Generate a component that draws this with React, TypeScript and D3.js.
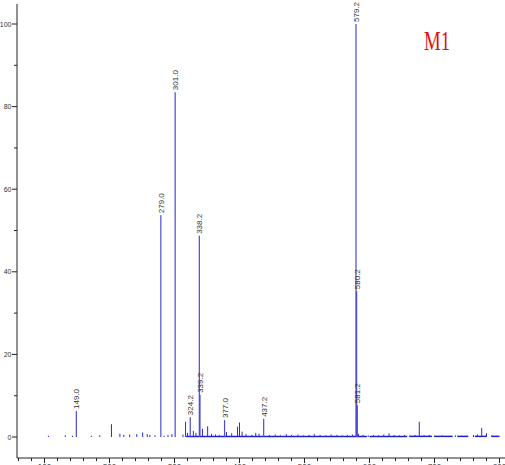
import React from "react";
import * as d3 from "d3";

const W = 505;
const H = 465;

// Labelled peaks: m/z, relative intensity
const peakMz = [149.0, 279.0, 301.0, 324.2, 338.2, 339.2, 377.0, 437.2, 579.2, 580.2, 581.2];
const peakInt = [6.3, 53.7, 83.5, 4.8, 48.7, 10.2, 4.1, 4.4, 100, 35.3, 7.7];
const peakLabels = ["149.0", "279.0", "301.0", "324.2", "338.2", "339.2", "377.0", "437.2", "579.2", "580.2", "581.2"];

// Unlabelled minor peaks
const minorMz = [106, 132, 143, 172, 185, 203, 216, 222, 231, 242, 251, 258, 262, 270, 284, 290, 296,
  313, 317, 320, 329, 333, 343, 351, 357, 363, 369, 380, 388, 397, 400, 404, 410, 419, 425, 430,
  446, 455, 463, 472, 480, 490, 498, 507, 515, 524, 533, 541, 550, 558, 566, 574, 583, 590, 598,
  606, 614, 622, 630, 638, 646, 654, 662, 670, 676.6, 684, 692, 700, 712, 722, 732, 742, 760, 766,
  772.6, 780, 788, 795];
const minorInt = [0.3, 0.4, 0.3, 0.3, 0.4, 3.1, 0.8, 0.5, 0.6, 0.7, 1.1, 0.7, 0.5, 0.4, 0.3, 0.5, 0.7,
  0.6, 3.7, 1.0, 1.5, 1.0, 2.0, 2.6, 0.8, 0.6, 0.5, 1.2, 0.9, 2.5, 3.5, 1.3, 0.7, 0.5, 1.0, 0.8,
  0.5, 0.6, 0.4, 0.7, 0.5, 0.6, 0.4, 0.5, 0.7, 0.5, 0.4, 0.6, 0.5, 0.4, 0.5, 0.6, 0.8, 0.5, 0.4,
  0.5, 0.4, 0.6, 0.9, 0.5, 0.4, 0.5, 0.4, 0.5, 3.7, 0.4, 0.5, 0.3, 0.4, 0.3, 0.4, 0.3, 0.5, 0.6,
  2.2, 0.9, 0.4, 0.3];

// Baseline noise segments (m/z ranges)
const baseStart = [318, 600, 662, 700, 735, 762, 788];
const baseEnd = [596, 658, 696, 728, 752, 780, 800];

const yTicks = [0, 20, 40, 60, 80, 100];
const xTicks = [100, 200, 300, 400, 500, 600, 700, 800];

export default function App() {
  const x = d3.scaleLinear().domain([100, 800]).range([44.5, 499.5]);
  const y = d3.scaleLinear().domain([0, 100]).range([437, 24]);
  const axisX = 17;
  const axisY = 458;
  const stroke = "#4a4ad6";

  const yMinor = d3.range(-10, 101, 10).filter((v) => v % 20 !== 0);
  const xMinor = d3.range(60, 801, 20).filter((v) => v % 100 !== 0);

  return (
    <svg width={W} height={H} style={{ position: "absolute", left: 0, top: 0, background: "#fff" }}>
      {/* axes */}
      <line x1={axisX} y1={4} x2={axisX} y2={axisY} stroke="#222" strokeWidth={1} />
      <line x1={axisX} y1={axisY} x2={W} y2={axisY} stroke="#222" strokeWidth={1} />
      {yTicks.map((t) => (
        <g key={"yt" + t}>
          <line x1={axisX - 5} x2={axisX} y1={y(t)} y2={y(t)} stroke="#222" />
          <text x={11.5} y={y(t) + 2.5} fontSize={7} fontFamily="Liberation Sans, Arial, sans-serif" textAnchor="end" fill="#333">
            {t}
          </text>
        </g>
      ))}
      {yMinor.map((t) => (
        <line key={"ym" + t} x1={axisX - 3} x2={axisX} y1={y(t)} y2={y(t)} stroke="#222" />
      ))}
      {xTicks.map((t) => (
        <g key={"xt" + t}>
          <line x1={x(t)} x2={x(t)} y1={axisY} y2={axisY + 5} stroke="#222" />
          <text x={x(t)} y={469} fontSize={8} fontFamily="Liberation Sans, Arial, sans-serif" textAnchor="middle" fill="#333">
            {t}
          </text>
        </g>
      ))}
      {xMinor.map((t) => (
        <line key={"xm" + t} x1={x(t)} x2={x(t)} y1={axisY} y2={axisY + 3} stroke="#222" />
      ))}

      {/* baseline noise */}
      {baseStart.map((s, i) => (
        <line key={"b" + i} x1={x(s)} x2={x(baseEnd[i])} y1={y(0.15)} y2={y(0.15)} stroke="#2020c8" strokeWidth={1.5} />
      ))}
      {/* minor peaks */}
      {minorMz.map((m, i) => (
        <line key={"m" + i} x1={x(m)} x2={x(m)} y1={y(0)} y2={y(minorInt[i])} stroke="#2a2ad0" strokeWidth={1} />
      ))}
      {/* labelled peaks */}
      {peakMz.map((m, i) => (
        <line key={"p" + i} x1={x(m)} x2={x(m)} y1={y(0)} y2={y(peakInt[i])} stroke={stroke} strokeWidth={1.2} />
      ))}
      {peakMz.map((m, i) => {
        const px = x(m);
        const py = y(peakInt[i]) - 2;
        return (
          <text
            key={"l" + i}
            transform={`translate(${px + 3},${py}) rotate(-90)`}
            fontSize={8}
            fontFamily="Liberation Sans, Arial, sans-serif"
            fill="#333"
            textAnchor="start"
          >
            {peakLabels[i]}
          </text>
        );
      })}

      <text x={424} y={50} fontSize={27} fontFamily="Liberation Serif, serif" fill="#e01010" textLength={26} lengthAdjust="spacingAndGlyphs">
        M1
      </text>
    </svg>
  );
}
